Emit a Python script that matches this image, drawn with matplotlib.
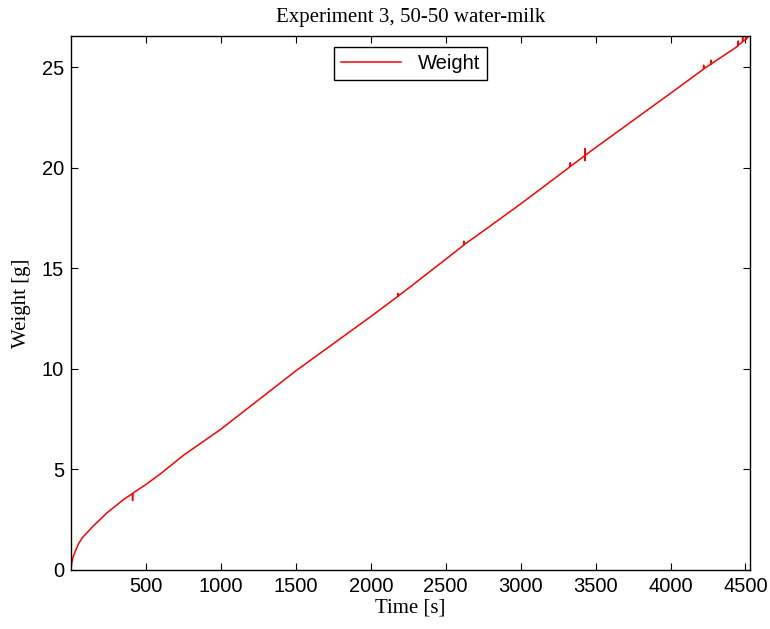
import matplotlib
matplotlib.use("Agg")
import matplotlib.pyplot as plt

# time [s] and weight [g] (spikes included)
time_s = [0, 5, 12, 27, 50, 75, 105, 150, 200, 238, 300, 350, 400, 410, 411, 412,
          420, 500, 600, 750, 1000, 1250, 1500, 1750, 2000, 2180, 2181, 2182,
          2250, 2500, 2620, 2621, 2622, 2750, 3000, 3250, 3330, 3331, 3332,
          3428, 3429, 3430, 3431, 3500, 3750, 4000, 4220, 4221, 4222, 4270,
          4271, 4272, 4400, 4450, 4451, 4452, 4480, 4481, 4482, 4500, 4505,
          4506, 4515]
weight_g = [0.0, 0.35, 0.6, 0.9, 1.3, 1.6, 1.84, 2.2, 2.55, 2.83, 3.2, 3.5,
            3.75, 3.8, 3.45, 3.82, 3.86, 4.25, 4.8, 5.7, 7.0, 8.45, 9.9, 11.25,
            12.6, 13.6, 13.75, 13.62, 14.0, 15.45, 16.15, 16.35, 16.17, 16.85,
            18.2, 19.6, 20.05, 20.25, 20.07, 20.6, 20.95, 20.35, 20.62, 21.0,
            22.35, 23.7, 24.9, 25.1, 24.92, 25.15, 25.35, 25.17, 25.8, 26.05,
            26.3, 26.1, 26.25, 26.55, 26.3, 26.35, 26.6, 26.4, 26.5]

xticks = [500, 1000, 1500, 2000, 2500, 3000, 3500, 4000, 4500]
yticks = [0, 5, 10, 15, 20, 25]

plt.rcParams["font.family"] = ["Liberation Sans", "DejaVu Sans"]

fig = plt.figure(figsize=(7.7, 6.29), dpi=100)
ax = fig.add_axes([0.0922, 0.0938, 0.8818, 0.849])

ax.plot(time_s, weight_g, color="red", linewidth=1.1, label="Weight")

ax.set_xlim(0, 4530)
ax.set_ylim(0, 26.55)
ax.set_xticks(xticks)
ax.set_yticks(yticks)
ax.tick_params(direction="in", top=True, right=True, labelsize=14.5, length=5,
               width=0.8, pad=5)
for spine in ax.spines.values():
    spine.set_linewidth(1.0)

serif = ["Liberation Serif", "DejaVu Serif"]
ax.set_title("Experiment 3, 50-50 water-milk", family=serif, fontsize=15, pad=10)
ax.set_xlabel("Time [s]", family=serif, fontsize=15, labelpad=2)
ax.set_ylabel("Weight [g]", family=serif, fontsize=15, labelpad=8)

leg = ax.legend(loc="upper center", fontsize=14.5, fancybox=False,
                edgecolor="black", framealpha=1, handlelength=3.0,
                borderpad=0.35, borderaxespad=0.55)
leg.get_frame().set_linewidth(1.0)

fig.savefig("out.png", dpi=100)
